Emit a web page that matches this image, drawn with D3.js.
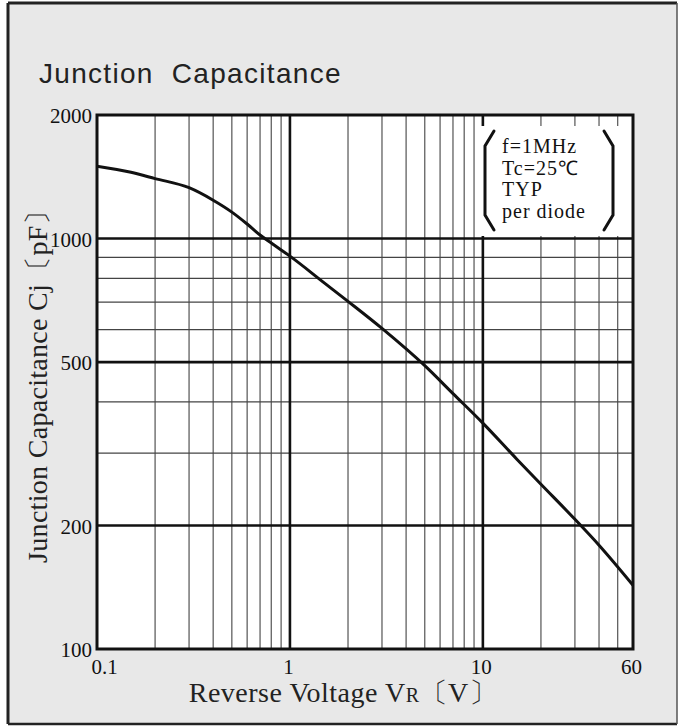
<!DOCTYPE html>
<html>
<head>
<meta charset="utf-8">
<script src="https://cdn.jsdelivr.net/npm/d3@7"></script>
<style>
  html, body { margin: 0; padding: 0; background: #ffffff; }
  svg { display: block; }
</style>
</head>
<body>
<svg id="chart" width="680" height="728"></svg>
<script>
// ---- data ----
const voltage = [0.1, 0.15, 0.2, 0.3, 0.4, 0.5, 0.6, 0.7, 0.8, 1, 1.5, 2, 3, 5, 7, 10, 15, 20, 30, 40, 60];
const capacitance = [1500, 1450, 1400, 1330, 1240, 1160, 1085, 1020, 975, 906, 781, 703, 604, 490, 419, 355, 290, 252, 207, 179, 143];
const xTickLabels = [0.1, 1, 10, 60];
const yTickLabels = [100, 200, 500, 1000, 2000];
const xMajorGrid = [1, 10];
const xMinorGrid = [0.2, 0.3, 0.4, 0.5, 0.6, 0.7, 0.8, 0.9, 2, 3, 4, 5, 6, 7, 8, 9, 20, 30, 40, 50];
const yMajorGrid = [200, 500, 1000];
const yMinorGrid = [300, 400, 600, 700, 800, 900];
const legendLines = ["f=1MHz", "Tc=25\u2103", "TYP", "per diode"];

// ---- layout ----
const svg = d3.select("#chart");
const L = 97, R = 633, T = 115, B = 649;
const x = d3.scaleLog().domain([0.1, 60]).range([L, R]);
const y = d3.scaleLog().domain([100, 2000]).range([B, T]);
const serif = "'Liberation Serif', 'Times New Roman', serif";

// outer frame
svg.append("rect").attr("x", 8).attr("y", 3).attr("width", 669).attr("height", 721)
  .attr("fill", "#e8e8e8");
svg.append("line").attr("x1", 8).attr("x2", 677).attr("y1", 3).attr("y2", 3).attr("stroke", "#222").attr("stroke-width", 3);
svg.append("line").attr("x1", 8).attr("x2", 8).attr("y1", 3).attr("y2", 724).attr("stroke", "#222").attr("stroke-width", 3);
svg.append("line").attr("x1", 8).attr("x2", 677).attr("y1", 724).attr("y2", 724).attr("stroke", "#222").attr("stroke-width", 2.5);
svg.append("line").attr("x1", 677).attr("x2", 677).attr("y1", 3).attr("y2", 724).attr("stroke", "#555").attr("stroke-width", 1.5);

// title
svg.append("text").attr("x", 39).attr("y", 83)
  .attr("font-family", "'Liberation Sans', Arial, Helvetica, sans-serif")
  .attr("font-size", 28).attr("letter-spacing", 1.3).attr("fill", "#222")
  .text("Junction\u00a0 Capacitance");

// plot background
svg.append("rect").attr("x", L).attr("y", T).attr("width", R - L).attr("height", B - T).attr("fill", "#fff");

const grid = svg.append("g");
grid.selectAll(".vmin").data(xMinorGrid).join("line")
  .attr("x1", d => x(d)).attr("x2", d => x(d)).attr("y1", T).attr("y2", B)
  .attr("stroke", "#444").attr("stroke-width", 1.1);
grid.selectAll(".hmin").data(yMinorGrid).join("line")
  .attr("x1", L).attr("x2", R).attr("y1", d => y(d)).attr("y2", d => y(d))
  .attr("stroke", "#444").attr("stroke-width", 1.1);
grid.selectAll(".vmaj").data(xMajorGrid).join("line")
  .attr("x1", d => x(d)).attr("x2", d => x(d)).attr("y1", T).attr("y2", B)
  .attr("stroke", "#111").attr("stroke-width", 2.6);
grid.selectAll(".hmaj").data(yMajorGrid).join("line")
  .attr("x1", L).attr("x2", R).attr("y1", d => y(d)).attr("y2", d => y(d))
  .attr("stroke", "#111").attr("stroke-width", 2.6);

// legend (white box with brackets)
svg.append("rect").attr("x", 480).attr("y", 126).attr("width", 140).attr("height", 110).attr("fill", "#fff");
const br = svg.append("g").attr("fill", "none").attr("stroke", "#111").attr("stroke-width", 3).attr("stroke-linecap", "round");
br.append("path").attr("d", "M494,131 L485,146 L485,215 L494,230");
br.append("path").attr("d", "M604,131 L613,146 L613,215 L604,230");
svg.append("g").selectAll("text").data(legendLines).join("text")
  .attr("x", 502).attr("y", (d, i) => 153 + i * 21.7)
  .attr("font-family", serif).attr("font-size", 20).attr("letter-spacing", 1).attr("fill", "#111")
  .text(d => d);

// curve
const line = d3.line().x((d, i) => x(voltage[i])).y(d => y(d)).curve(d3.curveMonotoneX);
svg.append("path").datum(capacitance).attr("d", line)
  .attr("fill", "none").attr("stroke", "#111").attr("stroke-width", 3);

// plot border
svg.append("rect").attr("x", L).attr("y", T).attr("width", R - L).attr("height", B - T)
  .attr("fill", "none").attr("stroke", "#111").attr("stroke-width", 3);

// axes
const xAxis = svg.append("g").attr("transform", `translate(0,${B})`)
  .call(d3.axisBottom(x).tickValues(xTickLabels).tickSize(0).tickFormat(d => String(d)));
xAxis.select(".domain").remove();
xAxis.selectAll("text").attr("font-family", serif).attr("font-size", 21).attr("fill", "#111")
  .attr("dy", null).attr("y", 25).attr("dx", d => d === 0.1 ? 7 : -2);

const yAxis = svg.append("g").attr("transform", `translate(${L},0)`)
  .call(d3.axisLeft(y).tickValues(yTickLabels).tickSize(0).tickFormat(d => String(d)));
yAxis.select(".domain").remove();
yAxis.selectAll("text").attr("font-family", serif).attr("font-size", 21).attr("fill", "#111")
  .attr("x", -5).attr("dy", "0.36em");

// axis titles
const xt = svg.append("text").attr("x", 343).attr("y", 702).attr("text-anchor", "middle")
  .attr("font-family", serif).attr("font-size", 28).attr("letter-spacing", 0.5).attr("fill", "#222");
xt.append("tspan").text("Reverse Voltage V");
xt.append("tspan").attr("font-size", 20).text("R");
xt.append("tspan").text("\u3014V\u3015");

const yt = svg.append("text").attr("transform", "translate(47,380) rotate(-90)").attr("text-anchor", "middle")
  .attr("font-family", serif).attr("font-size", 28).attr("letter-spacing", 0.3).attr("fill", "#222")
  .text("Junction Capacitance Cj\u3014pF\u3015");
</script>
</body>
</html>
